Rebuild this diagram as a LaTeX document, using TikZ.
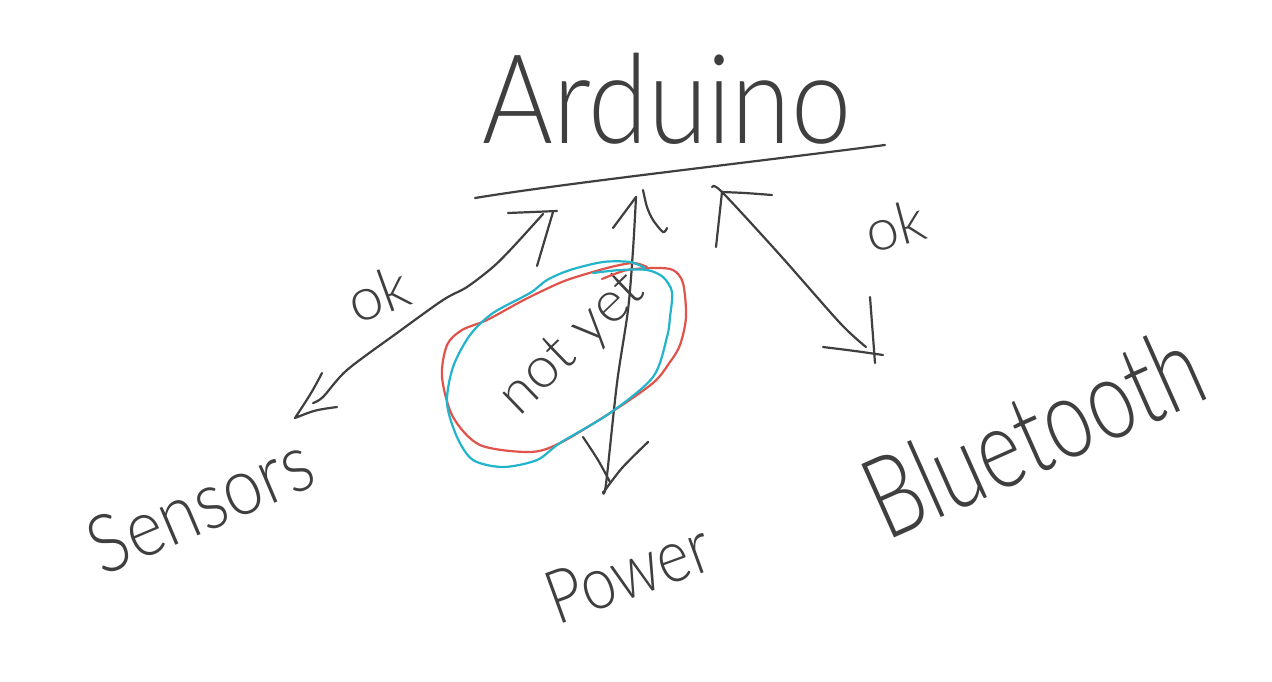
\documentclass[tikz,border=0pt]{standalone}
\usepackage{fontspec}
\usepackage{graphicx}
\setmainfont{Lato Light}
\definecolor{ink}{HTML}{3F3F3F}
\definecolor{redink}{HTML}{E0534A}
\definecolor{cyanink}{HTML}{22B4CB}
\tikzset{
  stroke/.style={draw=ink, line width=1.1pt, line cap=round, line join=round},
  redloop/.style={draw=redink, line width=1.1pt, line cap=round, line join=round},
  cyanloop/.style={draw=cyanink, line width=1.1pt, line cap=round, line join=round},
  hand/.style={text=ink, inner sep=0pt}
}
\begin{document}
\begin{tikzpicture}[x=0.5pt, y=-0.5pt]
\useasboundingbox (0,0) rectangle (1272,681);
\fill[white] (0,0) rectangle (1272,681);

% title and underline
\node[hand, anchor=base, font=\fontsize{54}{54}\selectfont] (arduino) at (667,143) {\scalebox{1}[1.15]{Arduino}};
\coordinate (barL) at (475,198);
\coordinate (barR) at (885,145);
\draw[stroke] (barL) .. controls (560,184) and (720,166) .. (barR);

% labels
\node[hand, rotate=23, font=\fontsize{35}{35}\selectfont] (sensors) at (200,504) {\scalebox{1}[1.15]{Sensors}};
\node[hand, rotate=20, font=\fontsize{31}{31}\selectfont] (power) at (628,572) {\scalebox{1}[1.2]{Power}};
\node[hand, rotate=24, font=\fontsize{42}{42}\selectfont] (bluetooth) at (1033,432) {\scalebox{1}[1.35]{Bluetooth}};
\node[hand, rotate=44, font=\fontsize{29}{29}\selectfont] (notyet) at (573,345) {not yet};
\node[hand, rotate=20, font=\fontsize{30}{30}\selectfont] (okL) at (378,294) {ok};
\node[hand, rotate=15, font=\fontsize{29}{29}\selectfont] (okR) at (895,226) {ok};

% sensors arrow
\coordinate (sTop) at (543,214);
\coordinate (sTip) at (295,418);
\draw[stroke] plot[smooth] coordinates {(sTop) (513,247) (493,267) (467,287) (443,300) (397,333) (347,370) (323,397) (313,403)};
\draw[stroke] (322,373) .. controls (312,392) .. (sTip) .. controls (315,410) .. (337,407);
\draw[stroke] (508,213) -- (557,211);
\draw[stroke] (553,212) -- (537,266);

% power arrow
\coordinate (pTop) at (636,197);
\coordinate (pTip) at (606,484);
\draw[stroke] plot[smooth] coordinates {(pTop) (633,250) (628,310) (617,383) (pTip) (603,492)};
\draw[stroke] (pTop) -- (613,228);
\draw[stroke] plot[smooth] coordinates {(643,190) (647,207) (653,220) (663,232) (667,228)};
\draw[stroke] plot[smooth] coordinates {(583,437) (598,460) (610,482)};
\draw[stroke] plot[smooth] coordinates {(648,442) (622,468) (603,493)};

% bluetooth arrow
\coordinate (bTop) at (722,192);
\coordinate (bTip) at (866,347);
\draw[stroke] plot[smooth] coordinates {(712,187) (bTop) (780,255) (840,323) (bTip)};
\draw[stroke] plot[smooth] coordinates {(bTop) (745,193) (772,195)};
\draw[stroke] (bTop) -- (716,247);
\draw[stroke] (870,297) -- (875,363);
\draw[stroke] plot[smooth] coordinates {(823,347) (855,351) (883,355)};

% loops around "not yet"
\draw[redloop] plot[smooth] coordinates {(602,279) (627,270) (655,268) (673,270) (683,283) (686,317) (680,345) (670,362) (653,383) (610,413) (560,443) (530,452) (480,445) (453,417) (442,377) (447,345) (462,330) (487,320) (520,302) (540,292) (567,280) (607,268) (633,263) (647,267)};
\draw[cyanloop] plot[smooth] coordinates {(593,273) (620,270) (647,270) (663,277) (672,292) (670,317) (667,337) (653,377) (610,413) (560,443) (537,460) (503,467) (473,460) (457,437) (447,403) (453,367) (470,335) (493,313) (530,293) (547,280) (570,270) (603,262) (630,262) (645,268)};
\end{tikzpicture}
\end{document}
